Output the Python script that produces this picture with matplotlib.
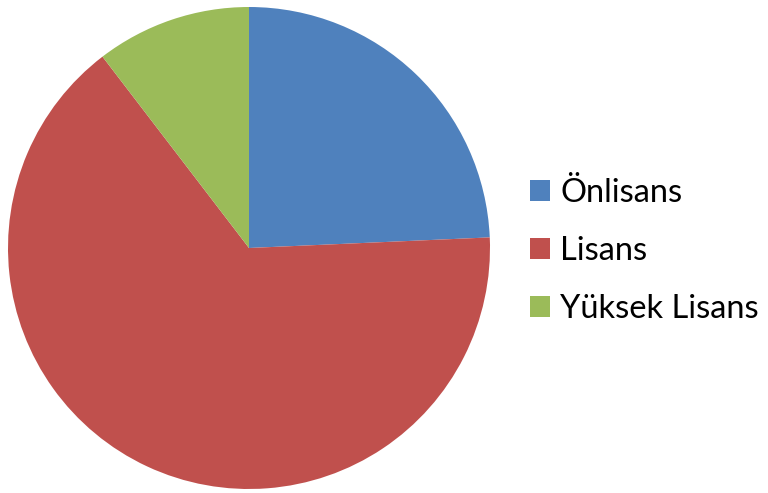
import matplotlib.pyplot as plt
from matplotlib.patches import Patch

labels = ['Önlisans', 'Lisans', 'Yüksek Lisans']
values = [24.3, 65.3, 10.4]
colors = ['#4F81BD', '#C0504D', '#9BBB59']

plt.rcParams['font.family'] = ['Lato', 'DejaVu Sans']

fig = plt.figure(figsize=(7.68, 4.93), dpi=100)
ax = fig.add_axes([8 / 768, 4 / 493, 482 / 768, 482 / 493])
ax.pie(values, colors=colors, startangle=90, counterclock=False,
       wedgeprops=dict(linewidth=0))
ax.set_xlim(-1, 1)
ax.set_ylim(-1, 1)
ax.set_aspect('equal')

handles = [Patch(facecolor=c, edgecolor='none') for c in colors]
fig.legend(handles, labels, loc='center left', bbox_to_anchor=(530 / 768, 242 / 493),
           frameon=False, fontsize=23.5, handlelength=0.62, handleheight=0.62,
           handletextpad=0.3, labelspacing=0.87, borderpad=0, borderaxespad=0)

fig.savefig('out.png', dpi=100)
